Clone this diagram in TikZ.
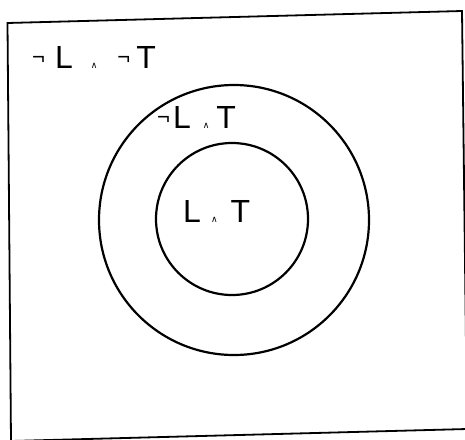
\documentclass[tikz,border=0pt]{standalone}
\usepackage{fontspec}
\setmainfont{Liberation Sans}
\newfontfamily\symfont{DejaVu Sans}
\usetikzlibrary{positioning}
\newcommand{\negsym}{\raisebox{0.1em}{\fontsize{22}{22}\selectfont ¬}}
\newcommand{\andsym}{{\symfont\fontsize{9}{9}\selectfont ∧}}

\begin{document}
\begin{tikzpicture}[
  x=1pt, y=-1pt,
  frame/.style={draw=black, line width=1.8pt, line join=miter},
  region/.style={circle, draw=black, line width=2.2pt, inner sep=0pt},
  lbl/.style={font=\fontsize{32}{34}\selectfont, inner sep=0pt, anchor=base west}
]
\useasboundingbox (0,0) rectangle (465,439);
\clip (0,0) rectangle (465,439);
% slightly skewed frame, as in the scan
\draw[frame] (7.5,23) -- (462,11) -- (467,429) -- (11,441) -- cycle;
\node[region, minimum size=270pt] (outer) at (234,220) {};
\node[region, minimum size=152pt] (inner) at (232,219) {};
\node[lbl] (nlnt) at (32,68) {\negsym\hspace{10pt}L\hspace{18pt}\andsym\hspace{20pt}\negsym\hspace{6pt}T};
\node[lbl] (nlt) at (157,128) {\negsym\hspace{3pt}L\hspace{12pt}\andsym\hspace{7pt}T};
\node[lbl] (lt) at (183,222) {L\hspace{10pt}\andsym\hspace{13pt}T};
\end{tikzpicture}
\end{document}
